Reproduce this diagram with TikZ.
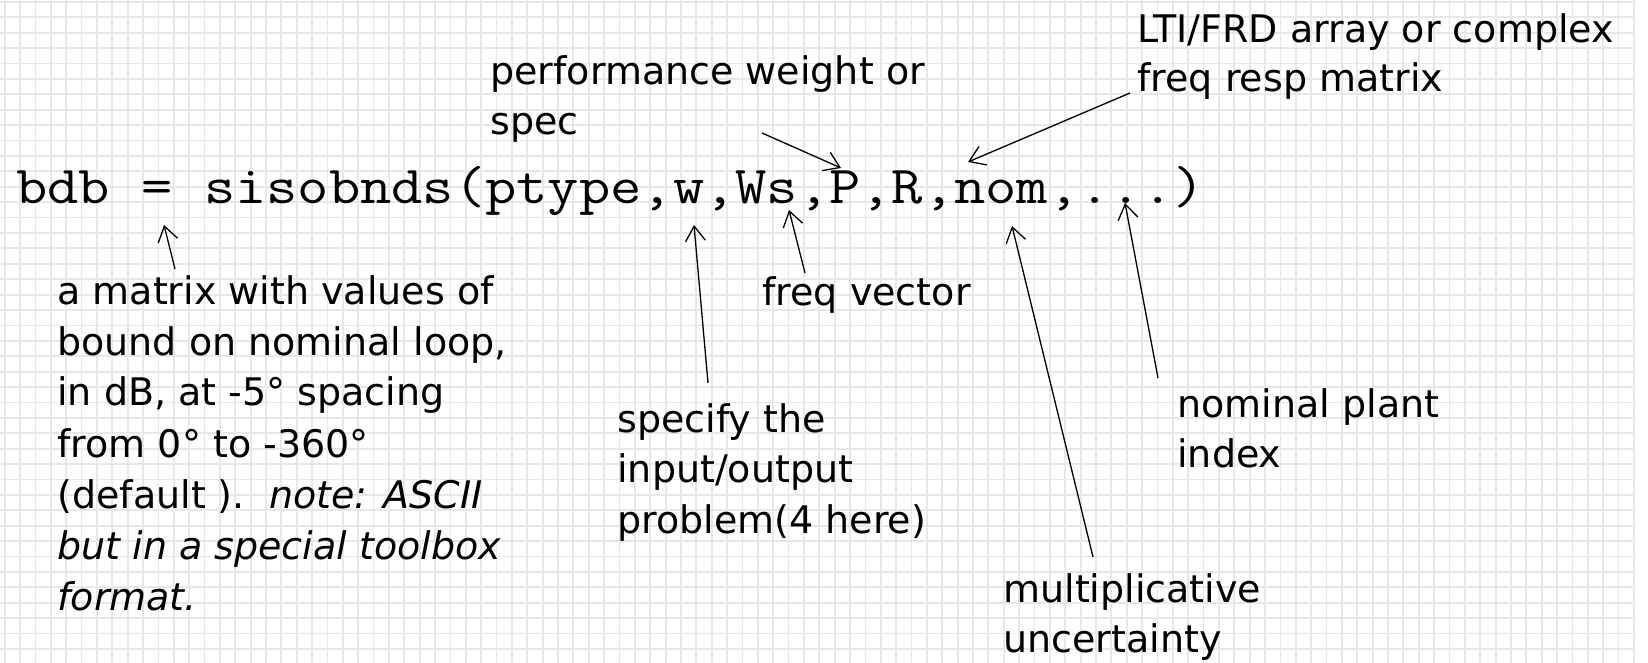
\documentclass[tikz,border=0pt]{standalone}
\usepackage{graphicx}
\usepackage{fontspec}
\setmainfont{DejaVu Sans}
\usetikzlibrary{arrows.meta}
\tikzset{
  gridline/.style={draw=black!9, line width=0.9pt},
  lbl/.style={anchor=base west, inner sep=0pt, font=\fontsize{19}{25}\selectfont},
  codeline/.style={anchor=base west, inner sep=0pt},
  ptr/.style={-{Straight Barb[length=7.5pt,width=10pt]}, line width=0.65pt, black},
}
\newcommand\mylines[2]{\vtop{\baselineskip=#1\halign{##\hfil\cr#2\crcr}}}
\newcommand\codetext[1]{\scalebox{1.137}[1]{\ttfamily\fontsize{26.7}{30}\selectfont #1}}
\begin{document}
\begin{tikzpicture}[x=0.5pt,y=-0.5pt]
\useasboundingbox (0,0) rectangle (1648,663);
\fill[white] (0,0) rectangle (1648,663);
\foreach \i in {0,...,106} \draw[gridline] ({4.7+15.37*\i},0) -- ({4.7+15.37*\i},663);
\foreach \j in {0,...,43} \draw[gridline] (0,{2+15.4*\j}) -- (1634,{2+15.4*\j});

\node[codeline] (code) at (16,204) {\codetext{bdb = sisobnds(ptype,w,Ws,P,R,nom,...)}};

\node[lbl] (bdbnote) at (57,304) {\mylines{25.5pt}{a matrix with values of\cr
bound on nominal loop,\cr
in dB, at -5° spacing\cr
from 0° to -360°\cr
(default ).\ \ \textit{note: ASCII}\cr
\textit{but in a special toolbox}\cr
\textit{format.}}};
\node[lbl] (perf) at (490,85) {\mylines{25pt}{performance weight or\cr spec}};
\node[lbl] (lti) at (1137,43) {\mylines{24.5pt}{LTI/FRD array or complex\cr freq resp matrix}};
\node[lbl] (freq) at (762,305) {freq vector};
\node[lbl] (spec) at (617,432) {\mylines{25.3pt}{specify the\cr input/output\cr problem(4 here)}};
\node[lbl] (nomp) at (1177,417) {\mylines{25pt}{nominal plant\cr index}};
\node[lbl] (mult) at (1003,602) {\mylines{25pt}{multiplicative\cr uncertainty}};

\coordinate (eqtip) at (164,225);
\coordinate (eqtail) at (175,269);
\coordinate (wtip) at (694,225);
\coordinate (wtail) at (708,383);
\coordinate (stip) at (789,210);
\coordinate (stail) at (805,273);
\coordinate (ptip) at (841,168);
\coordinate (ptail) at (762,133);
\coordinate (rtip) at (968,162);
\coordinate (rtail) at (1130,93);
\coordinate (nomtip) at (1012,226);
\coordinate (nomtail) at (1093,557);
\coordinate (dottip) at (1125,203);
\coordinate (dottail) at (1158,378);

\draw[ptr] (eqtail) -- (eqtip);
\draw[ptr] (wtail) -- (wtip);
\draw[ptr] (stail) -- (stip);
\draw[ptr] (ptail) -- (ptip);
\draw[ptr] (rtail) -- (rtip);
\draw[ptr] (nomtail) -- (nomtip);
\draw[ptr] (dottail) -- (dottip);
\end{tikzpicture}
\end{document}
